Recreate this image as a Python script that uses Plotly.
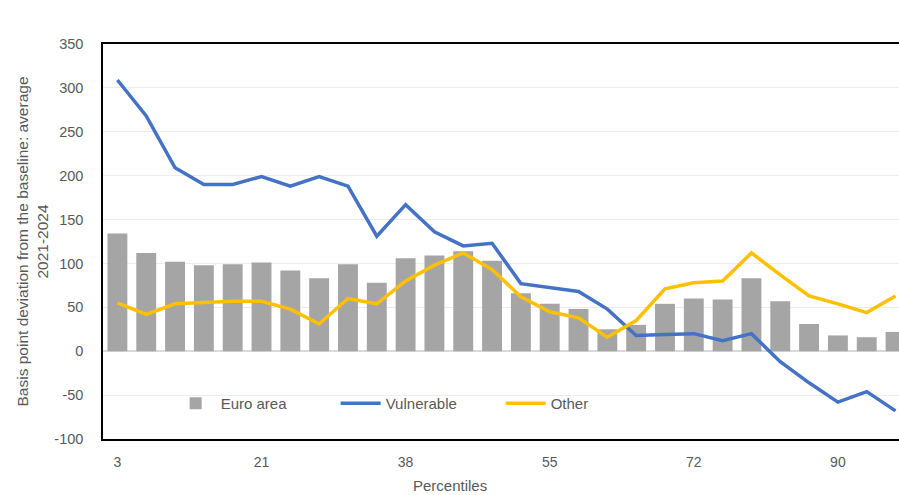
import plotly.graph_objects as go

# Percentile buckets (28 groups) and their axis labels
percentiles = ["3", "7", "10", "14", "17", "21", "24", "28", "31", "34", "38", "41", "45", "48",
               "52", "55", "59", "62", "66", "69", "72", "76", "79", "83", "86", "90", "93", "97"]
tick_labels = ["3", "21", "38", "55", "72", "90"]
y_ticks = [-100, -50, 0, 50, 100, 150, 200, 250, 300, 350]

# Basis point deviation from the baseline, average 2021-2024
euro_area = [134, 112, 102, 98, 99, 101, 92, 83, 99, 78, 106, 109, 114, 103,
             66, 54, 48, 25, 30, 54, 60, 59, 83, 57, 31, 18, 16, 22]
vulnerable = [309, 268, 209, 190, 190, 199, 188, 199, 188, 131, 167, 136, 120, 123,
              77, 73, 68, 48, 18, 19, 20, 12, 20, -12, -36, -58, -46, -68]
other = [55, 42, 54, 56, 57, 57, 48, 31, 60, 54, 80, 98, 112, 93,
         62, 45, 38, 16, 35, 71, 78, 80, 112, 87, 63, 54, 44, 63]

FONT = "Liberation Sans"
GREY_TXT = "#595959"

fig = go.Figure()
fig.add_trace(go.Bar(x=percentiles, y=euro_area, name="Euro area",
                     marker=dict(color="#a5a5a5", line=dict(width=0))))
fig.add_trace(go.Scatter(x=percentiles, y=vulnerable, name="Vulnerable", mode="lines",
                         line=dict(color="#4472c4", width=3.5)))
fig.add_trace(go.Scatter(x=percentiles, y=other, name="Other", mode="lines",
                         line=dict(color="#ffc000", width=3.5)))

fig.update_layout(
    width=899, height=495,
    margin=dict(l=103, r=0, t=44, b=56),
    paper_bgcolor="white", plot_bgcolor="white",
    bargap=0.31,
    font=dict(family=FONT, size=14, color=GREY_TXT),
    legend=dict(orientation="h", x=0.085, y=0.09, xanchor="left", yanchor="middle",
                bgcolor="rgba(0,0,0,0)", font=dict(size=15, color=GREY_TXT),
                entrywidth=110, itemwidth=40),
    xaxis=dict(
        type="category", range=[-0.5, 27.12],
        tickmode="array", tickvals=tick_labels, ticktext=tick_labels,
        showgrid=False, zeroline=False,
        showline=True, linecolor="black", linewidth=1.5, mirror=True,
        ticks="", ticklabelstandoff=9,
        tickfont=dict(size=14, color=GREY_TXT),
    ),
    yaxis=dict(
        range=[-100, 350],
        tickmode="array", tickvals=y_ticks, ticktext=[str(v) for v in y_ticks],
        showgrid=True, gridcolor="#ececec", gridwidth=1,
        zeroline=True, zerolinecolor="#d9d9d9", zerolinewidth=1.5,
        showline=True, linecolor="black", linewidth=1.5,
        ticks="", ticklabelstandoff=15,
        tickfont=dict(size=14.5, color=GREY_TXT),
        title=dict(text="Basis point deviation from the baseline: average<br>2021-2024",
                   font=dict(size=15.5, color=GREY_TXT), standoff=2),
    ),
)

fig.add_annotation(text="Percentiles", xref="paper", yref="paper",
                   x=0.436, y=-0.118, xanchor="center", yanchor="middle",
                   showarrow=False, font=dict(size=15, color=GREY_TXT))

fig.write_html("out.html")
